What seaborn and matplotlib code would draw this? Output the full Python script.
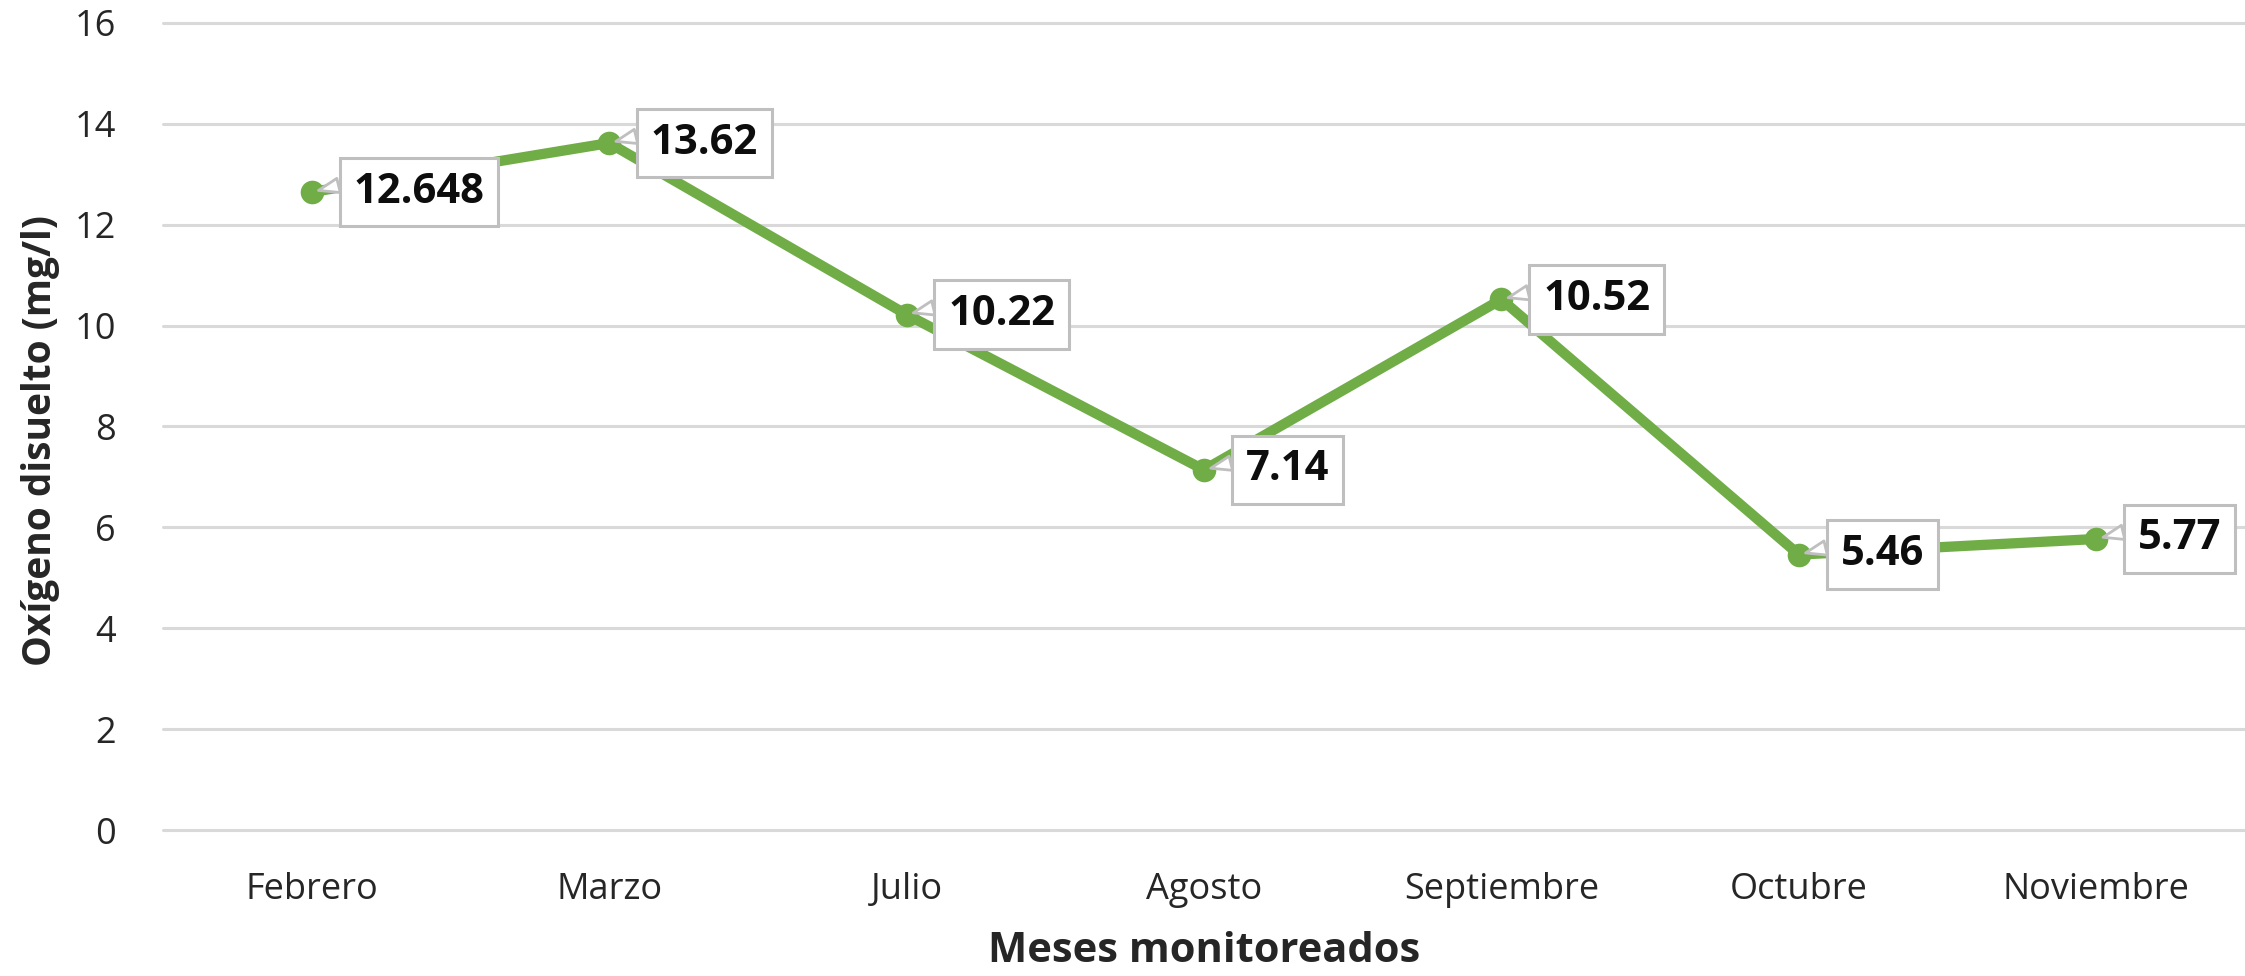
import matplotlib
matplotlib.use("Agg")
import matplotlib.pyplot as plt
import seaborn as sns

# datos
meses = ["Febrero", "Marzo", "Julio", "Agosto", "Septiembre", "Octubre", "Noviembre"]
oxigeno = [12.648, 13.62, 10.22, 7.14, 10.52, 5.46, 5.77]
etiquetas = ["12.648", "13.62", "10.22", "7.14", "10.52", "5.46", "5.77"]
y_ticks = [0, 2, 4, 6, 8, 10, 12, 14, 16]

sns.set_style("white")
plt.rcParams['font.family'] = ['Open Sans', 'DejaVu Sans']

fig = plt.figure(figsize=(22.45, 9.76), dpi=100)
ax = fig.add_axes([163 / 2245, 146 / 976, 1 - 163 / 2245, 807 / 976])

sns.lineplot(x=meses, y=oxigeno, ax=ax, sort=False, color="#70AD47",
             linewidth=7.4, marker="o", markersize=17, markeredgewidth=0)

ax.set_xlim(-0.5, 6.5)
ax.set_ylim(0, 16)
ax.set_yticks(y_ticks)
ax.grid(axis="y", color="#D9D9D9", linewidth=2.2)
ax.grid(axis="x", visible=False)
ax.set_axisbelow(True)
for gl in ax.get_ygridlines():
    gl.set_clip_on(False)
for s in ax.spines.values():
    s.set_visible(False)
ax.tick_params(axis="both", length=0, labelsize=26, colors="#262626")
ax.tick_params(axis="x", pad=30)
ax.tick_params(axis="y", pad=34)

# etiquetas de datos tipo globo
for i, (v, t) in enumerate(zip(oxigeno, etiquetas)):
    ax.annotate(t, xy=(i, v), xytext=(30, 0), textcoords="offset points",
                ha="left", va="center", fontsize=30, fontweight="bold", color="#0D0D0D",
                bbox=dict(boxstyle="square,pad=0.33", fc="white", ec="#BFBFBF", lw=2.2),
                arrowprops=dict(arrowstyle="wedge,tail_width=0.35", fc="white",
                                ec="#BFBFBF", lw=2.0, shrinkA=0, shrinkB=5,
                                relpos=(0, 0.75)))

ax.set_xlabel("Meses monitoreados", fontsize=30, fontweight="bold", va="center")
ax.xaxis.set_label_coords(0.5, -0.151)
ax.set_ylabel("Oxígeno disuelto (mg/l)", fontsize=28, fontweight="bold", va="center")
ax.yaxis.set_label_coords(-0.059, 0.483)

fig.savefig("out.png", dpi=100)
